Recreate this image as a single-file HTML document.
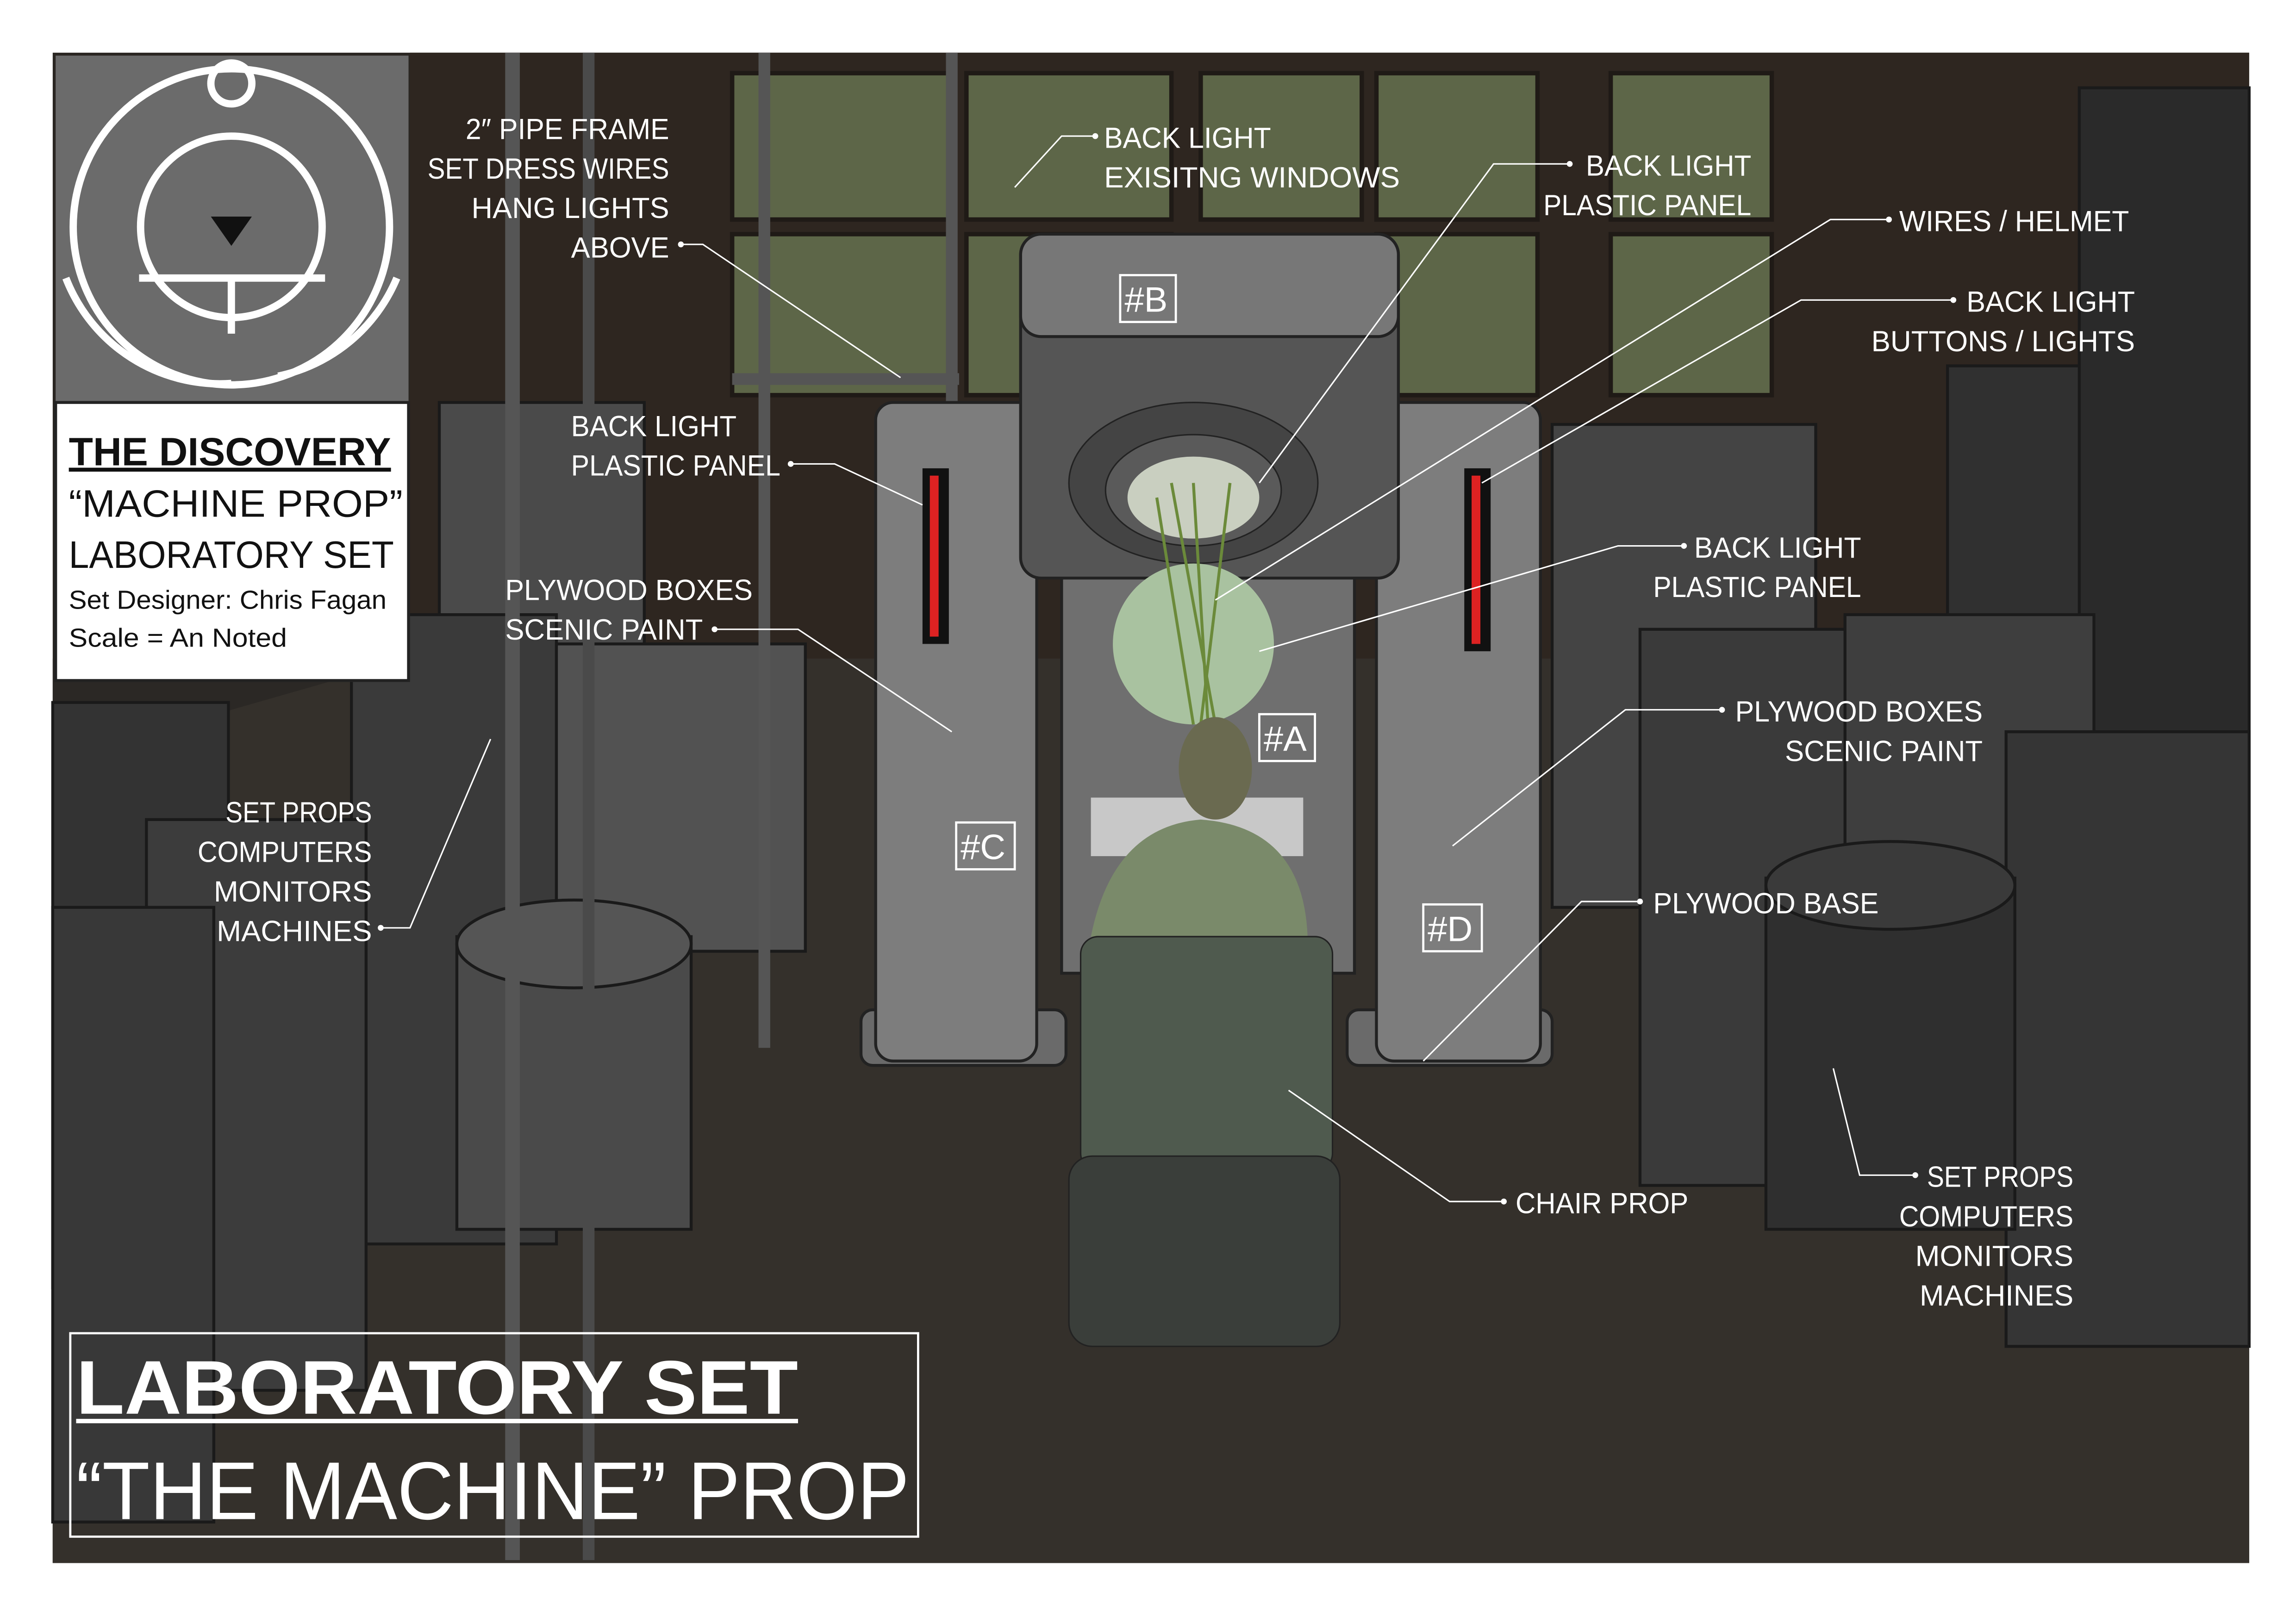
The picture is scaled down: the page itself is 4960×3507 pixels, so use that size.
<!DOCTYPE html>
<html><head><meta charset="utf-8"><style>
html,body{margin:0;padding:0;background:#fff}
svg{display:block}
text{font-family:"Liberation Sans",sans-serif;fill:#fff}
</style></head><body>
<svg width="4960" height="3507" viewBox="0 0 1568 1109" preserveAspectRatio="none" xmlns="http://www.w3.org/2000/svg">
<rect width="1568" height="1109" fill="#fff"/>
<rect x="36" y="36" width="1500" height="1032" fill="#2a2622"/>
<rect x="280" y="36" width="1256" height="420" fill="#2e2620"/>
<g fill="#5d6648" stroke="#1f1a16" stroke-width="3">
<rect x="500" y="50" width="150" height="100"/><rect x="500" y="160" width="150" height="110"/>
<rect x="660" y="50" width="140" height="100"/><rect x="660" y="160" width="140" height="110"/>
<rect x="820" y="50" width="110" height="100"/>
<rect x="940" y="50" width="110" height="100"/><rect x="940" y="160" width="110" height="110"/>
<rect x="1100" y="50" width="110" height="100"/><rect x="1100" y="160" width="110" height="110"/>
</g>
<polygon points="36,450 1536,450 1536,1068 36,1068" fill="#2b2825"/>
<polygon points="280,450 1300,450 1536,700 1536,1068 36,1068 36,520" fill="#34302b"/>
<g stroke="#1a1a1a" stroke-width="2">
<rect x="300" y="275" width="140" height="390" fill="#4a4a4a"/>
<rect x="240" y="420" width="140" height="430" fill="#3a3a3a"/>
<rect x="380" y="440" width="170" height="210" fill="#525252"/>
<rect x="36" y="480" width="120" height="400" fill="#333"/>
<rect x="100" y="560" width="150" height="390" fill="#3c3c3c"/>
<rect x="36" y="620" width="110" height="420" fill="#383838"/>
<rect x="312" y="640" width="160" height="200" fill="#4a4a4a"/>
<ellipse cx="392" cy="645" rx="80" ry="30" fill="#555"/>
<rect x="1060" y="290" width="180" height="330" fill="#444"/>
<rect x="1120" y="430" width="180" height="380" fill="#3a3a3a"/>
<rect x="1330" y="250" width="110" height="400" fill="#303030"/>
<rect x="1420" y="60" width="116" height="850" fill="#2a2a2a"/>
<rect x="1260" y="420" width="170" height="420" fill="#3e3e3e"/>
<rect x="1370" y="500" width="166" height="420" fill="#353535"/>
<rect x="1206" y="600" width="170" height="240" fill="#2f2f2f"/>
<ellipse cx="1291" cy="605" rx="85" ry="30" fill="#3a3a3a"/>
</g>
<rect x="345" y="36" width="10" height="1030" fill="#555"/>
<rect x="398" y="36" width="8" height="1030" fill="#4a4a4a"/>
<rect x="518" y="36" width="8" height="680" fill="#555"/>
<rect x="646" y="36" width="8" height="240" fill="#555"/>
<rect x="500" y="255" width="155" height="8" fill="#555"/>
<g stroke="#222" stroke-width="2">
<rect x="588" y="690" width="140" height="38" rx="8" fill="#6a6a6a"/>
<rect x="920" y="690" width="140" height="38" rx="8" fill="#6a6a6a"/>
<rect x="598" y="275" width="110" height="450" rx="12" fill="#7d7d7d"/>
<rect x="940" y="275" width="112" height="450" rx="12" fill="#7d7d7d"/>
<rect x="725" y="385" width="200" height="280" fill="#6f6f6f"/>
<rect x="697" y="160" width="258" height="235" rx="14" fill="#555"/>
<rect x="697" y="160" width="258" height="70" rx="14" fill="#777"/>
</g>
<ellipse cx="815" cy="330" rx="85" ry="55" fill="#444" stroke="#222"/>
<ellipse cx="815" cy="335" rx="60" ry="38" fill="#5a5a5a" stroke="#222"/>
<ellipse cx="815" cy="340" rx="45" ry="28" fill="#c9cfc0"/>
<circle cx="815" cy="440" r="55" fill="#a9c2a0"/>
<g stroke="#6b8a3a" stroke-width="2">
<line x1="800" y1="330" x2="830" y2="495"/><line x1="840" y1="330" x2="820" y2="495"/>
<line x1="815" y1="330" x2="825" y2="495"/><line x1="790" y1="340" x2="815" y2="495"/>
</g>
<rect x="630" y="320" width="18" height="120" fill="#111"/>
<rect x="1000" y="320" width="18" height="125" fill="#111"/>
<g fill="#d22"><rect x="635" y="325" width="6" height="110"/><rect x="1005" y="325" width="6" height="115"/></g>
<rect x="745" y="545" width="145" height="40" fill="#c8c8c8"/>
<ellipse cx="830" cy="525" rx="25" ry="35" fill="#6a6a50"/>
<path d="M745,640 Q760,565 820,560 Q890,565 893,640 Z" fill="#7a8a6a"/>
<rect x="738" y="640" width="172" height="160" rx="12" fill="#4f5a4e" stroke="#222"/>
<rect x="730" y="790" width="185" height="130" rx="16" fill="#3a3e3a" stroke="#222"/>
<g fill="none" stroke="#fff" stroke-width="1.5">
<rect x="765" y="188" width="38" height="32"/><rect x="860" y="488" width="38" height="32"/>
<rect x="653" y="562" width="40" height="32"/><rect x="972" y="618" width="40" height="32"/>
</g>
<g font-size="24"><text x="768" y="213">#B</text><text x="863" y="513">#A</text><text x="656" y="587">#C</text><text x="975" y="643">#D</text></g>
<g stroke="#fff" stroke-width="1" fill="none">
<polyline points="465,167 480,167 615,258"/>
<polyline points="748,93 725,93 693,128"/>
<polyline points="1072,112 1020,112 860,330"/>
<polyline points="1290,150 1250,150 830,410"/>
<polyline points="1334,205 1230,205 1012,330"/>
<polyline points="540,317 570,317 630,345"/>
<polyline points="1150,373 1105,373 860,445"/>
<polyline points="488,430 545,430 650,500"/>
<polyline points="1176,485 1110,485 992,578"/>
<polyline points="260,634 280,634 335,505"/>
<polyline points="1120,616 1080,616 972,725"/>
<polyline points="1027,821 990,821 880,745"/>
<polyline points="1308,803 1270,803 1252,730"/>
</g>
<g fill="#fff">
<circle cx="465" cy="167" r="2"/><circle cx="748" cy="93" r="2"/><circle cx="1072" cy="112" r="2"/>
<circle cx="1290" cy="150" r="2"/><circle cx="1334" cy="205" r="2"/><circle cx="540" cy="317" r="2"/>
<circle cx="1150" cy="373" r="2"/><circle cx="488" cy="430" r="2"/><circle cx="1176" cy="485" r="2"/>
<circle cx="260" cy="634" r="2"/><circle cx="1120" cy="616" r="2"/><circle cx="1027" cy="821" r="2"/><circle cx="1308" cy="803" r="2"/>
</g>
<g font-size="20" lengthAdjust="spacingAndGlyphs">
<text x="318" y="95" textLength="139" lengthAdjust="spacingAndGlyphs">2″ PIPE FRAME</text>
<text x="292" y="122" textLength="165" lengthAdjust="spacingAndGlyphs">SET DRESS WIRES</text>
<text x="322" y="149" textLength="135" lengthAdjust="spacingAndGlyphs">HANG LIGHTS</text>
<text x="390" y="176" textLength="67" lengthAdjust="spacingAndGlyphs">ABOVE</text>
<text x="754" y="101" textLength="114" lengthAdjust="spacingAndGlyphs">BACK LIGHT</text>
<text x="754" y="128" textLength="202" lengthAdjust="spacingAndGlyphs">EXISITNG WINDOWS</text>
<text x="1083" y="120" textLength="113" lengthAdjust="spacingAndGlyphs">BACK LIGHT</text>
<text x="1054" y="147" textLength="142" lengthAdjust="spacingAndGlyphs">PLASTIC PANEL</text>
<text x="1297" y="158" textLength="157" lengthAdjust="spacingAndGlyphs">WIRES / HELMET</text>
<text x="1343" y="213" textLength="115" lengthAdjust="spacingAndGlyphs">BACK LIGHT</text>
<text x="1278" y="240" textLength="180" lengthAdjust="spacingAndGlyphs">BUTTONS / LIGHTS</text>
<text x="390" y="298" textLength="113" lengthAdjust="spacingAndGlyphs">BACK LIGHT</text>
<text x="390" y="325" textLength="143" lengthAdjust="spacingAndGlyphs">PLASTIC PANEL</text>
<text x="1157" y="381" textLength="114" lengthAdjust="spacingAndGlyphs">BACK LIGHT</text>
<text x="1129" y="408" textLength="142" lengthAdjust="spacingAndGlyphs">PLASTIC PANEL</text>
<text x="345" y="410" textLength="169" lengthAdjust="spacingAndGlyphs">PLYWOOD BOXES</text>
<text x="345" y="437" textLength="135" lengthAdjust="spacingAndGlyphs">SCENIC PAINT</text>
<text x="1185" y="493" textLength="169" lengthAdjust="spacingAndGlyphs">PLYWOOD BOXES</text>
<text x="1219" y="520" textLength="135" lengthAdjust="spacingAndGlyphs">SCENIC PAINT</text>
<text x="154" y="562" textLength="100" lengthAdjust="spacingAndGlyphs">SET PROPS</text>
<text x="135" y="589" textLength="119" lengthAdjust="spacingAndGlyphs">COMPUTERS</text>
<text x="146" y="616" textLength="108" lengthAdjust="spacingAndGlyphs">MONITORS</text>
<text x="148" y="643" textLength="106" lengthAdjust="spacingAndGlyphs">MACHINES</text>
<text x="1129" y="624" textLength="154" lengthAdjust="spacingAndGlyphs">PLYWOOD BASE</text>
<text x="1035" y="829" textLength="118" lengthAdjust="spacingAndGlyphs">CHAIR PROP</text>
<text x="1316" y="811" textLength="100" lengthAdjust="spacingAndGlyphs">SET PROPS</text>
<text x="1297" y="838" textLength="119" lengthAdjust="spacingAndGlyphs">COMPUTERS</text>
<text x="1308" y="865" textLength="108" lengthAdjust="spacingAndGlyphs">MONITORS</text>
<text x="1311" y="892" textLength="105" lengthAdjust="spacingAndGlyphs">MACHINES</text>
</g>
<rect x="38" y="38" width="241" height="237" fill="#6b6b6b"/>
<g stroke="#fff" stroke-width="5" fill="none">
<circle cx="158" cy="155" r="108"/>
<circle cx="158" cy="155" r="62"/>
<circle cx="158" cy="57" r="14"/>
<line x1="95" y1="190" x2="222" y2="190"/>
<line x1="158" y1="190" x2="158" y2="228"/>
<path d="M45,190 A113,113 0 0,0 158,262"/>
<path d="M271,190 A113,113 0 0,1 190,257"/>
</g>
<polygon points="144,148 172,148 158,168" fill="#111"/>
<rect x="38" y="275" width="241" height="190" fill="#fff" stroke="#222" stroke-width="2"/>
<text x="47" y="318" font-size="27" font-weight="bold" text-decoration="underline" style="fill:#111" textLength="220" lengthAdjust="spacingAndGlyphs">THE DISCOVERY</text>
<text x="47" y="353" font-size="26" style="fill:#111" textLength="228" lengthAdjust="spacingAndGlyphs">“MACHINE PROP”</text>
<text x="47" y="388" font-size="26" style="fill:#111" textLength="222" lengthAdjust="spacingAndGlyphs">LABORATORY SET</text>
<text x="47" y="416" font-size="18" style="fill:#111" textLength="217" lengthAdjust="spacingAndGlyphs">Set Designer: Chris Fagan</text>
<text x="47" y="442" font-size="18" style="fill:#111" textLength="149" lengthAdjust="spacingAndGlyphs">Scale = An Noted</text>
<rect x="48" y="911" width="579" height="139" fill="none" stroke="#fff" stroke-width="1.5"/>
<text x="52" y="966" font-size="52" font-weight="bold" textLength="493" lengthAdjust="spacingAndGlyphs">LABORATORY SET</text>
<line x1="52" y1="971" x2="545" y2="971" stroke="#fff" stroke-width="3"/>
<text x="52" y="1038" font-size="56" textLength="569" lengthAdjust="spacingAndGlyphs">“THE MACHINE” PROP</text>
</svg>
</body></html>
